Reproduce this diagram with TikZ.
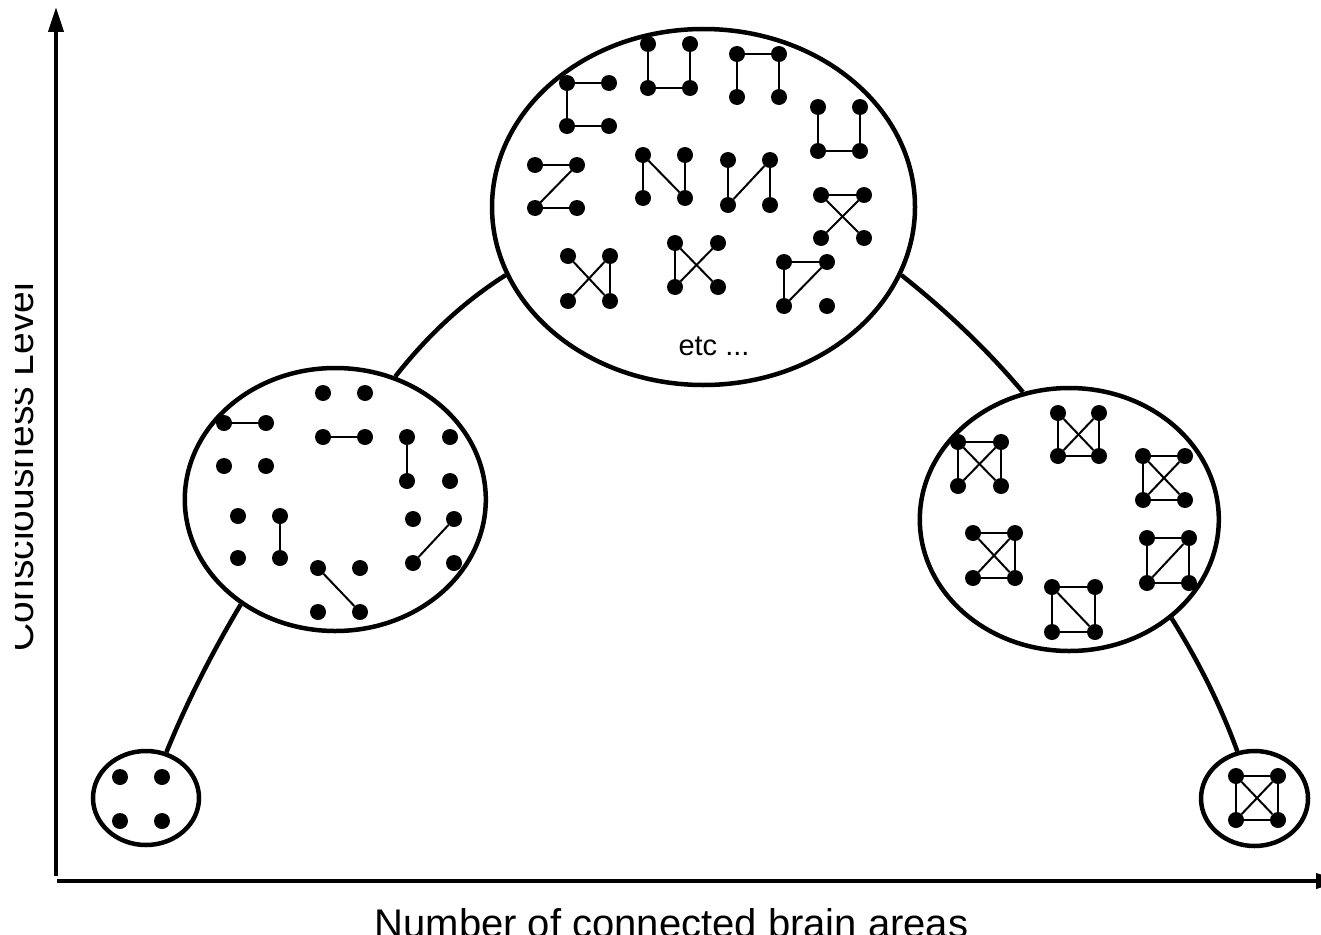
\documentclass[tikz,border=0pt]{standalone}
\usepackage{fontspec}
\setmainfont{Liberation Sans}
\usetikzlibrary{shapes.geometric,arrows.meta}
\tikzset{
  blob/.style={ellipse, draw=black, fill=white, line width=4.5pt, inner sep=0pt},
  dot/.style={circle, fill=black, inner sep=0pt, minimum size=16pt},
  edge/.style={line width=2pt},
  link/.style={line width=4.5pt},
  axis/.style={line width=3.8pt, -{Triangle[length=25pt,width=15pt]}}
}
\newcommand\dotgroup[6]{%
  \node[dot] (#1a) at (#2,#3) {};
  \node[dot] (#1b) at ({#2+#4},#3) {};
  \node[dot] (#1c) at (#2,{#3+#5}) {};
  \node[dot] (#1d) at ({#2+#4},{#3+#5}) {};
  \foreach \u/\v in {#6} {\draw[edge] (#1\u) -- (#1\v);}
}
\begin{document}
\begin{tikzpicture}[x=1pt,y=-1pt]
\useasboundingbox (0,0) rectangle (1321,934);
\clip (0,0) rectangle (1321,934);
% axes
\coordinate (o1) at (56,876);
\coordinate (ytip) at (56,7);
\coordinate (o2) at (57,881);
\coordinate (xtip) at (1341,881);
\draw[axis] (o1) -- (ytip);
\draw[axis] (o2) -- (xtip);
\begin{scope}
\clip (15,0) rectangle (50,934);
\node[rotate=90, anchor=base, font=\fontsize{39}{47}\selectfont, inner sep=0pt] (ylab) at (33,467) {Consciousness Level};
\end{scope}
\node[anchor=base, font=\fontsize{40}{48}\selectfont, inner sep=0pt] (xlab) at (671.5,937) {Number of connected brain areas};
% ellipses
\node[blob, minimum width=106pt, minimum height=94pt] (s1) at (146,798) {};
\node[blob, minimum width=301pt, minimum height=263pt] (m1) at (335.3,499.5) {};
\node[blob, minimum width=423pt, minimum height=356pt] (t) at (703.5,207) {};
\node[blob, minimum width=299pt, minimum height=263pt] (m2) at (1069.3,519.5) {};
\node[blob, minimum width=107pt, minimum height=95pt] (s2) at (1254.5,798.5) {};
% connectors
\draw[link] (s1.66) .. controls (186.8,702.4) and (211.2,654) .. (m1.228);
\draw[link] (m1.64) .. controls (426.6,336.7) and (462.2,302.7) .. (t.199);
\draw[link] (t.341) .. controls (944.8,309.6) and (985.4,347.6) .. (m2.110);
\draw[link] (m2.316) .. controls (1199.2,662.5) and (1220.8,706.1) .. (s2.110);
% small left
\node[dot] (p1a) at (120,777) {};
\node[dot] (p1b) at (162,777) {};
\node[dot] (p1c) at (120,821) {};
\node[dot] (p1d) at (162,821) {};
% small right
\dotgroup{p5}{1236}{776}{42}{44}{a/b,a/c,b/d,c/d,a/d,b/c}
% left medium
\dotgroup{la}{224}{423}{42}{43}{a/b}
\dotgroup{lb}{323}{393}{42}{44}{c/d}
\dotgroup{lc}{407}{437}{43}{44}{a/c}
\dotgroup{ld}{238}{516}{42}{42}{b/d}
\dotgroup{le}{413}{519}{41}{44}{c/b}
\dotgroup{lf}{318}{568}{42}{44}{a/d}
% top
\dotgroup{ta}{567}{83}{42}{43}{a/b,a/c,c/d}
\dotgroup{tb}{648}{44}{42}{44}{a/c,b/d,c/d}
\dotgroup{tc}{737}{54}{42}{43}{a/b,a/c,b/d}
\dotgroup{td}{818}{107}{42}{44}{a/c,b/d,c/d}
\dotgroup{te}{535}{165}{42}{43}{a/b,b/c,c/d}
\dotgroup{tf}{643}{155}{42}{43}{a/c,a/d,b/d}
\dotgroup{tg}{728}{160}{42}{45}{a/c,c/b,b/d}
\dotgroup{th}{821}{195}{43}{43}{a/b,a/d,b/c}
\dotgroup{ti}{568}{256}{42}{45}{a/d,b/c,b/d}
\dotgroup{tj}{675}{243}{43}{44}{a/c,a/d,b/c}
\dotgroup{tk}{784}{262}{43}{44}{a/b,a/c,b/c}
\node[font=\fontsize{29}{34}\selectfont, inner sep=0pt, anchor=base] (etc) at (714,355) {etc ...};
% right medium
\dotgroup{ra}{958}{442}{43}{44}{a/b,a/c,b/d,a/d,b/c}
\dotgroup{rb}{1058}{413}{41}{43}{a/c,b/d,c/d,a/d,b/c}
\dotgroup{rc}{1143}{456}{42}{44}{a/b,a/c,c/d,a/d,b/c}
\dotgroup{rd}{973}{533}{42}{45}{a/b,b/d,c/d,a/d,b/c}
\dotgroup{re}{1147}{538}{42}{45}{a/b,a/c,b/d,c/d,c/b}
\dotgroup{rf}{1052}{587}{43}{45}{a/b,a/c,b/d,c/d,a/d}
\end{tikzpicture}
\end{document}
